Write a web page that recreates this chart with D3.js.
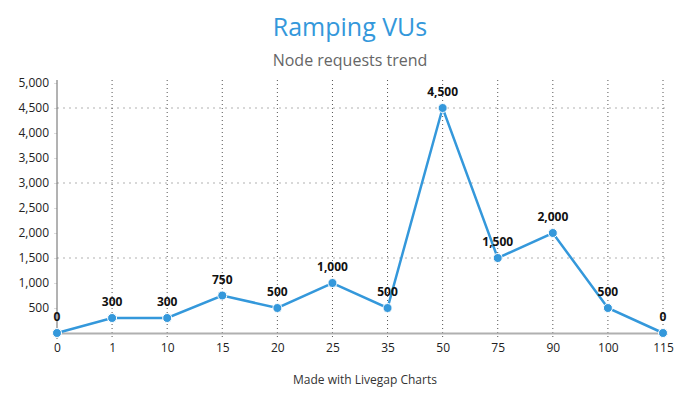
<!DOCTYPE html>
<html><head><meta charset="utf-8">
<script src="https://cdn.jsdelivr.net/npm/d3@7"></script>
<style>
body{margin:0;background:#fff;}
text{font-family:"Open Sans",sans-serif;}
</style></head>
<body><svg id="c" width="700" height="400"></svg>
<script>
const categories = ["0","1","10","15","20","25","35","50","75","90","100","115"];
const values = [0,300,300,750,500,1000,500,4500,1500,2000,500,0];
const yTicks = [500,1000,1500,2000,2500,3000,3500,4000,4500,5000];
const gridTicks = [1500,3000,4500];
const title = "Ramping VUs";
const subtitle = "Node requests trend";
const footer = "Made with Livegap Charts";

const svg = d3.select("#c");
const color = "#3498db";
const x = d3.scalePoint().domain(categories).range([57,663]);
const y = d3.scaleLinear().domain([0,5000]).range([333,83]);
const fmt = d3.format(",");

svg.append("text").attr("x",350).attr("y",36).attr("text-anchor","middle")
  .attr("font-size",25).attr("fill",color).text(title);
svg.append("text").attr("x",350).attr("y",66).attr("text-anchor","middle")
  .attr("font-size",16).attr("fill","#666").text(subtitle);
svg.append("text").attr("x",365).attr("y",384).attr("text-anchor","middle")
  .attr("font-size",12).attr("fill","#333").text(footer);

// horizontal grid
svg.append("g").selectAll("line").data(gridTicks).join("line")
  .attr("x1",57).attr("x2",668).attr("y1",d=>y(d)).attr("y2",d=>y(d))
  .attr("stroke","#ccc").attr("stroke-width",1.5).attr("stroke-dasharray","2,4");

// vertical grid
svg.append("g").selectAll("line").data(categories.slice(1)).join("line")
  .attr("x1",d=>x(d)).attr("x2",d=>x(d)).attr("y1",80).attr("y2",339)
  .attr("stroke","#555").attr("stroke-width",1).attr("stroke-dasharray","1,3");

// y axis
const yAxis = d3.axisLeft(y).tickValues(yTicks).tickFormat(fmt).tickSize(3).tickPadding(5);
const gy = svg.append("g").attr("transform","translate(57,0)").call(yAxis);
gy.select(".domain").remove();
gy.selectAll(".tick line").attr("stroke","#ddd");
gy.selectAll("text").attr("font-size",12).attr("fill","#222").attr("font-family","Open Sans");
svg.append("line").attr("x1",57).attr("x2",57).attr("y1",80).attr("y2",339)
  .attr("stroke","#666").attr("stroke-width",1);

// x axis
const xAxis = d3.axisBottom(x).tickSize(0).tickPadding(10);
const gx = svg.append("g").attr("transform","translate(0,333)").call(xAxis);
gx.select(".domain").remove();
gx.selectAll("text").attr("font-size",12).attr("fill","#222").attr("font-family","Open Sans").attr("dy","0.75em");
svg.append("line").attr("x1",57).attr("x2",668).attr("y1",333.5).attr("y2",333.5)
  .attr("stroke","#b0b0b0").attr("stroke-width",2);

// line
const line = d3.line().x((d,i)=>x(categories[i])).y(d=>y(d));
svg.append("path").datum(values).attr("d",line).attr("fill","none")
  .attr("stroke",color).attr("stroke-width",2.5);

svg.append("g").selectAll("circle").data(values).join("circle")
  .attr("cx",(d,i)=>x(categories[i])).attr("cy",d=>y(d)).attr("r",4.5)
  .attr("fill",color).attr("stroke","#fff").attr("stroke-width",1);

svg.append("g").selectAll("text").data(values).join("text")
  .attr("x",(d,i)=>x(categories[i])).attr("y",d=>y(d)-12)
  .attr("text-anchor","middle").attr("font-size",12).attr("font-weight","bold")
  .attr("fill","#111").text(d=>fmt(d));
</script></body></html>
